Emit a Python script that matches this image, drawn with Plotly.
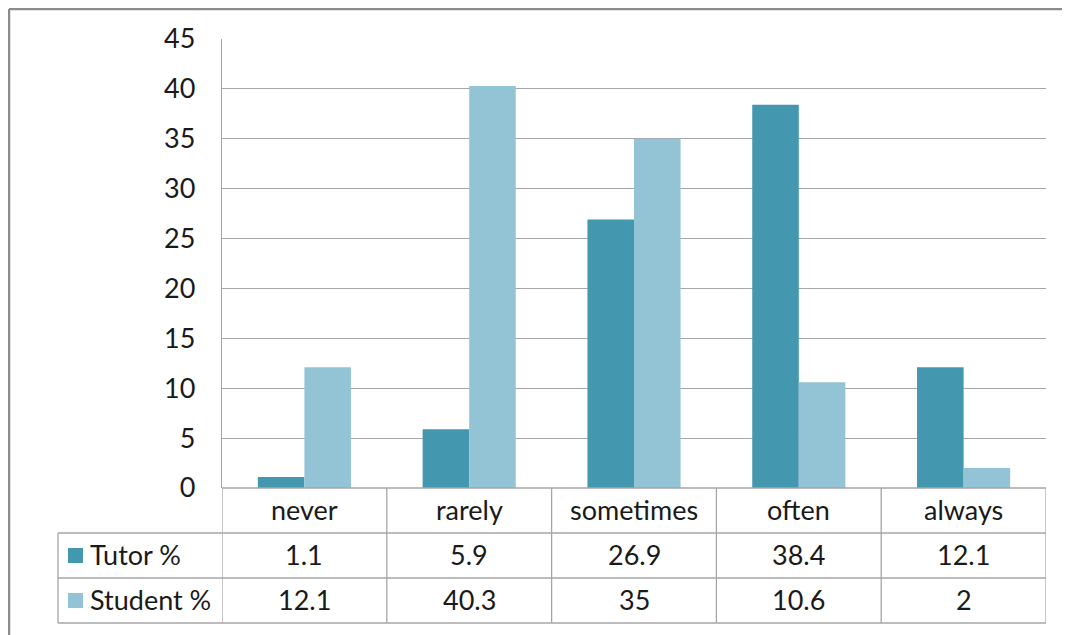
import plotly.graph_objects as go

categories = ["never", "rarely", "sometimes", "often", "always"]
series_names = ["Tutor %", "Student %"]
tutor = [1.1, 5.9, 26.9, 38.4, 12.1]
student = [12.1, 40.3, 35, 10.6, 2]
y_ticks = [0, 5, 10, 15, 20, 25, 30, 35, 40, 45]

colors = ["#4398B0", "#93C4D5"]
OFF = 8  # page body margin
W, H = 1070 - OFF, 635 - OFF
L, R, T, B = 222, 1046, 39, 488  # target pixel positions in the window
FONT = "Lato"
FS = 27
TXT = "#1a1a1a"
GRID = "#a6a6a6"


def px(p):
    return (p - L) / (R - L)


def py(p):
    return (B - p) / (B - T)


fig = go.Figure()
for name, vals, c in zip(series_names, [tutor, student], colors):
    fig.add_trace(go.Bar(x=categories, y=vals, name=name, marker=dict(color=c, line_width=0)))

shapes = []
annotations = []
# outer frame (as close to the window edge as the page allows)
shapes.append(dict(type="line", xref="paper", yref="paper", x0=px(9), x1=px(1080), y0=py(9), y1=py(9),
                   line=dict(color="#8c8c8c", width=2.5)))
shapes.append(dict(type="line", xref="paper", yref="paper", x0=px(9), x1=px(9), y0=py(9), y1=py(650),
                   line=dict(color="#8c8c8c", width=2.5)))

rows = [488, 533, 578, 623]
for i, r in enumerate(rows):
    x0 = L if i == 0 else 58
    shapes.append(dict(type="line", xref="paper", yref="paper", x0=px(x0), x1=1, y0=py(r), y1=py(r),
                       line=dict(color=GRID, width=1.3)))
n = len(categories)
for k in range(n + 1):
    shapes.append(dict(type="line", xref="x", yref="paper", x0=k - 0.5, x1=k - 0.5, y0=py(488), y1=py(623),
                       line=dict(color=GRID, width=1.3)))
shapes.append(dict(type="line", xref="paper", yref="paper", x0=px(58), x1=px(58), y0=py(533), y1=py(623),
                   line=dict(color=GRID, width=1.3)))

for k, cat in enumerate(categories):
    annotations.append(dict(x=cat, xref="x", y=py((rows[0] + rows[1]) / 2 - 1), yref="paper", text=cat,
                            yanchor="middle", xanchor="center",
                            showarrow=False, font=dict(family=FONT, size=FS, color=TXT)))
for ri, (name, vals, c) in enumerate(zip(series_names, [tutor, student], colors)):
    yc = (rows[ri + 1] + rows[ri + 2]) / 2
    shapes.append(dict(type="rect", xref="paper", yref="paper", x0=px(68), x1=px(83), y0=py(yc - 7.5),
                       y1=py(yc + 7.5), fillcolor=c, line_width=0))
    annotations.append(dict(x=px(88), xref="paper", y=py(yc - 1), yref="paper", text=name, xanchor="left",
                            yanchor="middle",
                            showarrow=False, font=dict(family=FONT, size=FS, color=TXT)))
    for k, v in enumerate(vals):
        annotations.append(dict(x=categories[k], xref="x", y=py(yc - 1), yref="paper", text=f"{v:g}",
                                yanchor="middle", xanchor="center",
                                showarrow=False, font=dict(family=FONT, size=FS, color=TXT)))

fig.update_layout(
    width=W, height=H,
    margin=dict(l=L - OFF, r=W - (R - OFF), t=T - OFF, b=H - (B - OFF), pad=0),
    paper_bgcolor="white", plot_bgcolor="white",
    barmode="group", bargap=0.435, bargroupgap=0,
    showlegend=False,
    shapes=shapes, annotations=annotations,
    xaxis=dict(showticklabels=False, showgrid=False, showline=False, zeroline=False, ticks="",
               range=[-0.5, n - 0.5]),
    yaxis=dict(range=[0, 45], tickvals=y_ticks, showgrid=True, gridcolor=GRID, gridwidth=1.3,
               showline=True, linecolor=GRID, linewidth=1.3, zeroline=False, ticks="",
               ticklabelstandoff=20,
               tickfont=dict(family=FONT, size=FS, color=TXT)),
)

fig.write_html("out.html")
